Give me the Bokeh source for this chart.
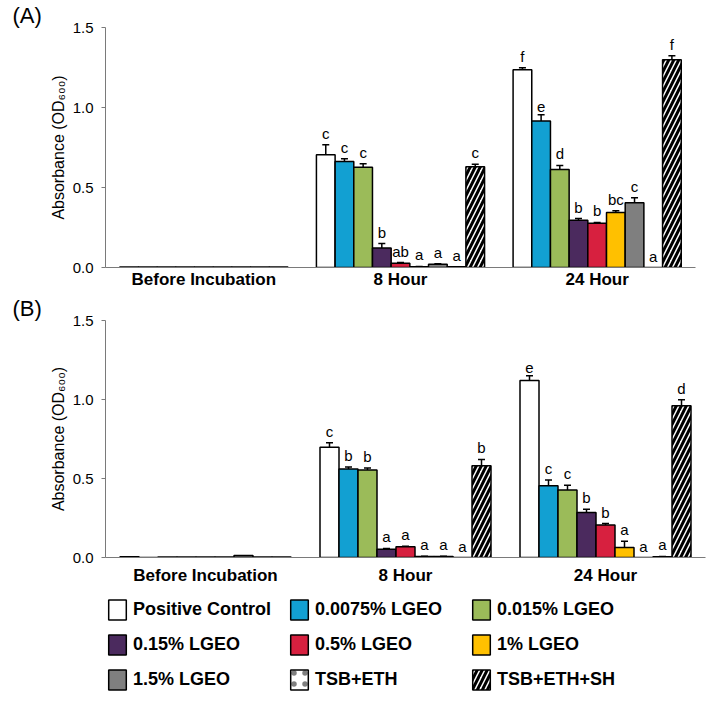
from bokeh.plotting import figure
from bokeh.models import (ColumnDataSource, FactorRange, FixedTicker, Whisker, TeeHead,
                          Legend, LegendItem, Range1d, NumeralTickFormatter, BoxAnnotation)
from bokeh.transform import dodge
from bokeh.layouts import column, row
from bokeh.embed import file_html
from bokeh.resources import INLINE
from bokeh.core.properties import value

# ---------------- data ----------------
groups = ["Before Incubation", "8 Hour", "24 Hour"]
series = ["Positive Control", "0.0075% LGEO", "0.015% LGEO", "0.15% LGEO", "0.5% LGEO",
          "1% LGEO", "1.5% LGEO", "TSB+ETH", "TSB+ETH+SH"]
colors = ["#ffffff", "#12a0d2", "#9bbb59", "#4b2a5e", "#d7203f", "#ffc000", "#7f7f7f",
          "#ffffff", "#ffffff"]

# Panel A
A_before = [0.003, 0.003, 0.003, 0.003, 0.003, 0.003, 0.003, 0.003, 0.003]
A_8h = [0.705, 0.663, 0.626, 0.122, 0.027, 0.005, 0.020, 0.004, 0.630]
A_24h = [1.236, 0.916, 0.612, 0.296, 0.277, 0.343, 0.405, 0.000, 1.298]
A_before_err = [0, 0, 0, 0, 0, 0, 0, 0, 0]
A_8h_err = [0.062, 0.016, 0.022, 0.028, 0.004, 0.002, 0.004, 0.000, 0.015]
A_24h_err = [0.013, 0.039, 0.026, 0.010, 0.005, 0.012, 0.031, 0.000, 0.025]
A_before_sig = ["", "", "", "", "", "", "", "", ""]
A_8h_sig = ["c", "c", "c", "b", "ab", "a", "a", "a", "c"]
A_24h_sig = ["f", "e", "d", "b", "b", "bc", "c", "a", "f"]

# Panel B
B_before = [0.004, 0.000, 0.003, 0.003, 0.003, 0.003, 0.012, 0.003, 0.003]
B_8h = [0.697, 0.560, 0.554, 0.053, 0.068, 0.006, 0.006, 0.000, 0.581]
B_24h = [1.120, 0.454, 0.427, 0.285, 0.205, 0.063, 0.000, 0.005, 0.961]
B_before_err = [0, 0, 0, 0, 0, 0, 0, 0, 0]
B_8h_err = [0.030, 0.012, 0.012, 0.004, 0.003, 0.002, 0.002, 0.000, 0.040]
B_24h_err = [0.030, 0.037, 0.030, 0.020, 0.010, 0.040, 0.000, 0.002, 0.037]
B_before_sig = ["", "", "", "", "", "", "", "", ""]
B_8h_sig = ["c", "b", "b", "a", "a", "a", "a", "a", "b"]
B_24h_sig = ["e", "c", "c", "b", "b", "a", "a", "a", "d"]

y_ticks = [0.0, 0.5, 1.0, 1.5]

FONT = "Liberation Sans"
BAR_W = 0.095
AXIS_GREY = "#7a7a7a"


def style_for(i):
    kw = dict(fill_color=colors[i], line_color="black", line_width=1.5)
    if series[i] == "TSB+ETH+SH":
        kw.update(hatch_pattern="/", hatch_color="black", hatch_scale=10, hatch_weight=3)
    elif series[i] == "TSB+ETH":
        kw.update(hatch_pattern=".", hatch_color="#7f7f7f", hatch_scale=11, hatch_weight=4)
    return kw


def make_panel(tag, means, errs, sigs, width, height, bl, br, bt, bb, xstand):
    p = figure(x_range=FactorRange(factors=groups, range_padding=0),
               y_range=Range1d(0, 1.5), width=width, height=height,
               output_backend="svg", toolbar_location=None,
               min_border_left=bl, min_border_right=br, min_border_top=bt,
               min_border_bottom=bb, title=tag)
    p.outline_line_color = None
    p.grid.visible = False
    p.background_fill_color = "white"

    p.title.text_font = FONT
    p.title.text_font_style = "normal"
    p.title.text_font_size = "22px"
    p.title.align = "left"
    p.title.offset = -93
    p.title.standoff = 0
    p.title.text_color = "black"

    for i in range(len(series)):
        off = (i - (len(series) - 1) / 2) * BAR_W
        tops = [means[g][i] for g in range(len(groups))]
        es = [errs[g][i] for g in range(len(groups))]
        src = ColumnDataSource(dict(group=groups, top=tops,
                                    upper=[t + e for t, e in zip(tops, es)],
                                    sig=[sigs[g][i] for g in range(len(groups))]))
        p.vbar(x=dodge("group", off, range=p.x_range), top="top", width=BAR_W,
               source=src, **style_for(i))
        keep = [k for k in range(len(groups)) if es[k] > 0]
        if keep:
            wsrc = ColumnDataSource(dict(group=[groups[k] for k in keep],
                                         upper=[tops[k] + es[k] for k in keep],
                                         lower=[tops[k] - es[k] for k in keep]))
            w = Whisker(base=dodge("group", off, range=p.x_range), upper="upper",
                        lower="lower", source=wsrc, line_color="black", line_width=1.5,
                        upper_head=TeeHead(size=7, line_color="black", line_width=1.5),
                        lower_head=TeeHead(size=7, line_color="black", line_width=1.5))
            p.add_layout(w)
        p.text(x=dodge("group", off, range=p.x_range), y="upper", text="sig",
               source=src, text_align="center", text_baseline="bottom", y_offset=-3,
               text_font=value(FONT), text_font_size="15px", text_color="black")

    # y axis
    p.yaxis.ticker = FixedTicker(ticks=y_ticks)
    p.yaxis.formatter = NumeralTickFormatter(format="0.0")
    p.yaxis.minor_tick_line_color = None
    p.yaxis.axis_line_color = AXIS_GREY
    p.yaxis.major_tick_line_color = AXIS_GREY
    p.yaxis.major_tick_out = 4
    p.yaxis.major_tick_in = 0
    p.yaxis.major_label_standoff = 8
    p.yaxis.major_label_text_font = FONT
    p.yaxis.major_label_text_font_size = "15px"
    p.yaxis.major_label_text_color = "black"
    p.yaxis.axis_label = "Absorbance (OD\u2086\u2080\u2080)"
    p.yaxis.axis_label_text_font = FONT
    p.yaxis.axis_label_text_font_style = "normal"
    p.yaxis.axis_label_text_font_size = "16px"
    p.yaxis.axis_label_text_color = "black"
    p.yaxis.axis_label_standoff = 3

    # x axis
    p.xaxis.axis_line_color = AXIS_GREY
    p.xaxis.axis_line_width = 1.2
    p.xaxis.major_tick_line_color = None
    p.xaxis.minor_tick_line_color = None
    p.xaxis.major_label_standoff = xstand
    p.xaxis.major_label_text_font = FONT
    p.xaxis.major_label_text_font_style = "bold"
    p.xaxis.major_label_text_font_size = "17px"
    p.xaxis.major_label_text_color = "black"
    return p


pA = make_panel("(A)", [A_before, A_8h, A_24h], [A_before_err, A_8h_err, A_24h_err],
                [A_before_sig, A_8h_sig, A_24h_sig], 706, 291, 105, 11, 25, 24, -4)
pB = make_panel("(B)", [B_before, B_8h, B_24h], [B_before_err, B_8h_err, B_24h_err],
                [B_before_sig, B_8h_sig, B_24h_sig], 706, 296, 105, 1, 29, 30, 2)

# ---------------- legend ----------------
pl = figure(width=706, height=118, x_range=Range1d(0, 1), y_range=Range1d(0, 1),
            output_backend="svg", toolbar_location=None,
            min_border_left=105, min_border_right=11, min_border_top=0,
            min_border_bottom=0, x_axis_location=None, y_axis_location=None)
pl.outline_line_color = None
pl.grid.visible = False
items = []
for i, name in enumerate(series):
    # proxy glyphs for the legend keys; hidden beneath a white box below
    r = pl.vbar(x=[0.5], top=[0.5], width=0.1, **style_for(i))
    items.append(LegendItem(label=name, renderers=[r]))
pl.add_layout(BoxAnnotation(fill_color="white", fill_alpha=1.0, line_color=None))
leg = Legend(items=items, orientation="horizontal", ncols=3, location=(1, 13.5),
             glyph_width=22, glyph_height=25, label_standoff=5, label_width=145,
             label_height=20, spacing=10, padding=0, margin=0,
             border_line_color=None, background_fill_alpha=0,
             label_text_font=FONT, label_text_font_style="bold",
             label_text_font_size="18px", label_text_color="black")
pl.add_layout(leg)

layout = column(pA, row(pB), row(pl), spacing=0)
open("out.html", "w").write(file_html(layout, INLINE))
